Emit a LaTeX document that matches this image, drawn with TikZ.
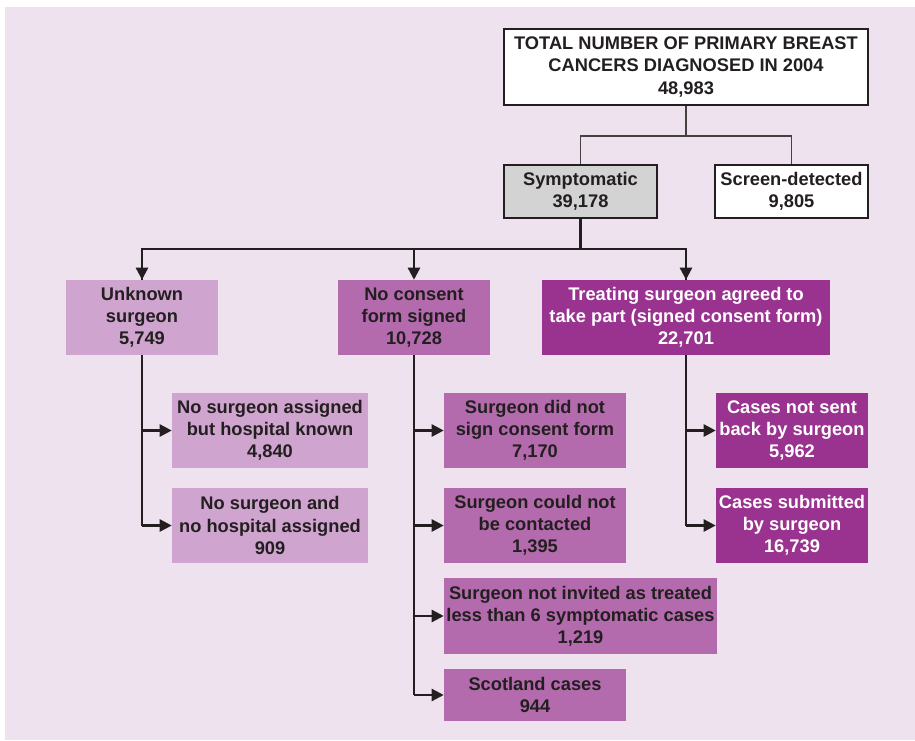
\documentclass[tikz,border=0pt]{standalone}
\usepackage{fontspec}
\setmainfont{Liberation Sans}
\usetikzlibrary{arrows.meta}
\definecolor{bgc}{HTML}{EEE2EF}
\definecolor{lightp}{HTML}{CFA4CF}
\definecolor{midp}{HTML}{B46BAD}
\definecolor{darkp}{HTML}{9A338F}
\definecolor{grayb}{HTML}{D3D3D3}
\definecolor{ink}{HTML}{231F20}
\tikzset{
  base/.style={rectangle, inner sep=0pt, align=center, font=\bfseries\fontsize{13.7}{16.6}\selectfont, text=ink},
  outlined/.style={base, draw=ink, line width=1.9pt},
  lbox/.style={base, fill=lightp},
  mbox/.style={base, fill=midp},
  dbox/.style={base, fill=darkp, text=white},
  thinline/.style={draw=ink!85, line width=0.9pt},
  arr/.style={draw=ink, line width=1.8pt, -{Triangle[length=9pt,width=9pt]}},
  trunk/.style={draw=ink, line width=1.8pt},
}
\begin{document}
\begin{tikzpicture}[x=0.75pt,y=-0.75pt]
\useasboundingbox (0,0) rectangle (915,740);
\fill[bgc] (5,7) rectangle (915,740);
\node[outlined, fill=white, minimum width=364*0.75pt, minimum height=76*0.75pt] (top) at (686,67) {TOTAL NUMBER OF PRIMARY BREAST\\CANCERS DIAGNOSED IN 2004\\48,983};
\node[outlined, fill=grayb, minimum width=153*0.75pt, minimum height=53*0.75pt] (sym) at (580.5,191.5) {Symptomatic\\39,178};
\node[outlined, fill=white, minimum width=153*0.75pt, minimum height=53*0.75pt] (scr) at (791.5,191.5) {Screen-detected\\9,805};
\node[lbox, minimum width=152*0.75pt, minimum height=75*0.75pt] (unk) at (142,317.5) {Unknown\\surgeon\\5,749};
\node[mbox, minimum width=152*0.75pt, minimum height=75*0.75pt] (noc) at (414,317.5) {No consent\\form signed\\10,728};
\node[dbox, minimum width=288*0.75pt, minimum height=75*0.75pt] (trt) at (686,317.5) {Treating surgeon agreed to\\take part (signed consent form)\\22,701};
\node[lbox, minimum width=196*0.75pt, minimum height=75*0.75pt] (ns1) at (270,430.5) {No surgeon assigned\\but hospital known\\4,840};
\node[lbox, minimum width=196*0.75pt, minimum height=75*0.75pt] (ns2) at (270,525.5) {No surgeon and\\no hospital assigned\\909};
\node[mbox, minimum width=182*0.75pt, minimum height=75*0.75pt] (sd1) at (535,430.5) {Surgeon did not\\sign consent form\\7,170};
\node[mbox, minimum width=182*0.75pt, minimum height=75*0.75pt] (sd2) at (535,525.5) {Surgeon could not\\be contacted\\1,395};
\node[mbox, minimum width=273*0.75pt, minimum height=76*0.75pt] (sd3) at (580.5,616) {Surgeon not invited as treated\\less than 6 symptomatic cases\\1,219};
\node[mbox, minimum width=182*0.75pt, minimum height=52*0.75pt] (sd4) at (535,695) {Scotland cases\\944};
\node[dbox, minimum width=152*0.75pt, minimum height=75*0.75pt] (cs1) at (792,430.5) {Cases not sent\\back by surgeon\\5,962};
\node[dbox, minimum width=152*0.75pt, minimum height=75*0.75pt] (cs2) at (792,525.5) {Cases submitted\\by surgeon\\16,739};
% top split
\coordinate (tj) at (686,136);
\draw[thinline] (top.south) -- (tj);
\draw[thinline] (tj) -| (sym.north);
\draw[thinline] (tj) -| (scr.north);
% symptomatic split
\coordinate (sj) at (580.5,249);
\draw[trunk] (sym.south) -- (sj);
\draw[trunk] (sj) -| (unk.north);
\draw[trunk] (sj) -| (trt.north);
\draw[arr] (unk.north |- sj) -- (unk.north);
\draw[arr] (noc.north |- sj) -- (noc.north);
\draw[arr] (trt.north |- sj) -- (trt.north);
% unknown branch
\draw[trunk] (unk.south) -- (unk.south |- ns2.west);
\draw[arr] (unk.south |- ns1.west) -- (ns1.west);
\draw[arr] (unk.south |- ns2.west) -- (ns2.west);
% no consent branch
\draw[trunk] (noc.south) -- (noc.south |- sd4.west);
\draw[arr] (noc.south |- sd1.west) -- (sd1.west);
\draw[arr] (noc.south |- sd2.west) -- (sd2.west);
\draw[arr] (noc.south |- sd3.west) -- (sd3.west);
\draw[arr] (noc.south |- sd4.west) -- (sd4.west);
% treating branch
\draw[trunk] (trt.south) -- (trt.south |- cs2.west);
\draw[arr] (trt.south |- cs1.west) -- (cs1.west);
\draw[arr] (trt.south |- cs2.west) -- (cs2.west);
\end{tikzpicture}
\end{document}
